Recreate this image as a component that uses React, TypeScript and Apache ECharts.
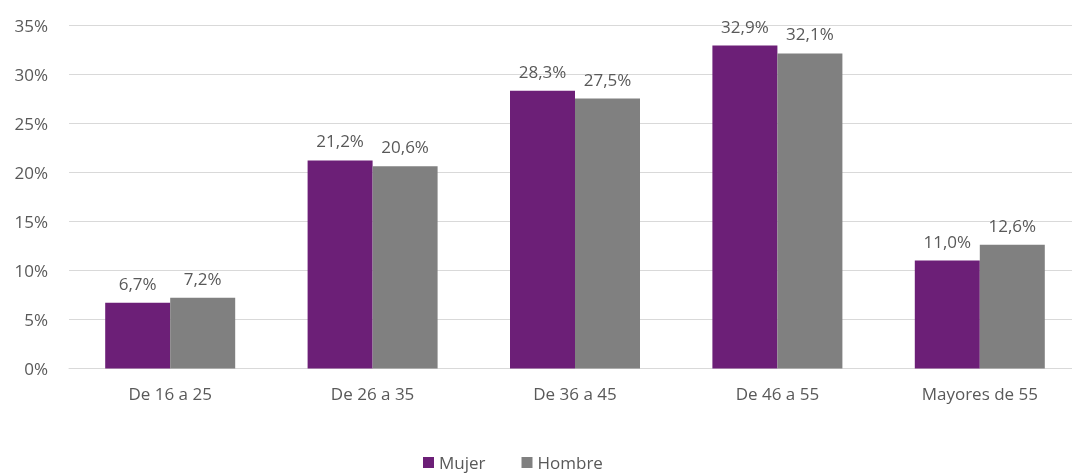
import React, { useEffect, useRef } from "react";
import * as echarts from "echarts";

const categories = ["De 16 a 25", "De 26 a 35", "De 36 a 45", "De 46 a 55", "Mayores de 55"];
const mujer = [6.7, 21.2, 28.3, 32.9, 11.0];
const hombre = [7.2, 20.6, 27.5, 32.1, 12.6];
const seriesNames = ["Mujer", "Hombre"];

const FONT = "Open Sans";
const TXT = "#595959";
const FS = 17;

export default function App() {
  const ref = useRef<HTMLDivElement>(null);
  useEffect(() => {
    if (!ref.current) return;
    const chart = echarts.init(ref.current, undefined, { renderer: "svg" });
    const fmt = (v: number) => v.toFixed(1).replace(".", ",") + "%";
    const label = {
      show: true,
      position: "top",
      distance: 11,
      color: TXT,
      fontFamily: FONT,
      fontSize: FS,
      formatter: (p: any) => fmt(p.value),
    };
    chart.setOption({
      animation: false,
      textStyle: { fontFamily: FONT },
      grid: { left: 69, width: 1012, top: 25, height: 343.5 },
      legend: {
        left: 423,
        top: 454,
        padding: 0,
        itemWidth: 11,
        itemHeight: 11,
        itemGap: 36,
        icon: "rect",
        textStyle: { color: TXT, fontFamily: FONT, fontSize: FS },
        data: seriesNames,
      },
      xAxis: {
        type: "category",
        data: categories,
        axisLine: { lineStyle: { color: "#d9d9d9" } },
        axisTick: { show: false },
        axisLabel: { color: TXT, fontFamily: FONT, fontSize: FS, margin: 16 },
      },
      yAxis: {
        type: "value",
        min: 0,
        max: 35,
        interval: 5,
        axisLabel: { color: TXT, fontFamily: FONT, fontSize: FS, margin: 21, formatter: (v: number) => v + "%" },
        splitLine: { lineStyle: { color: "#d9d9d9" } },
        axisLine: { show: false },
        axisTick: { show: false },
      },
      series: [
        { name: seriesNames[0], type: "bar", data: mujer, barWidth: 65, barGap: "0%", itemStyle: { color: "#6c1f77" }, label },
        { name: seriesNames[1], type: "bar", data: hombre, barWidth: 65, barGap: "0%", itemStyle: { color: "#808080" }, label },
      ],
    });
    return () => chart.dispose();
  }, []);
  return (
    <div style={{ position: "fixed", left: 0, top: 0, width: 1072, height: 473, overflow: "hidden" }}>
      <div ref={ref} style={{ position: "absolute", left: 0, top: 0, width: 1100, height: 473 }} />
    </div>
  );
}
